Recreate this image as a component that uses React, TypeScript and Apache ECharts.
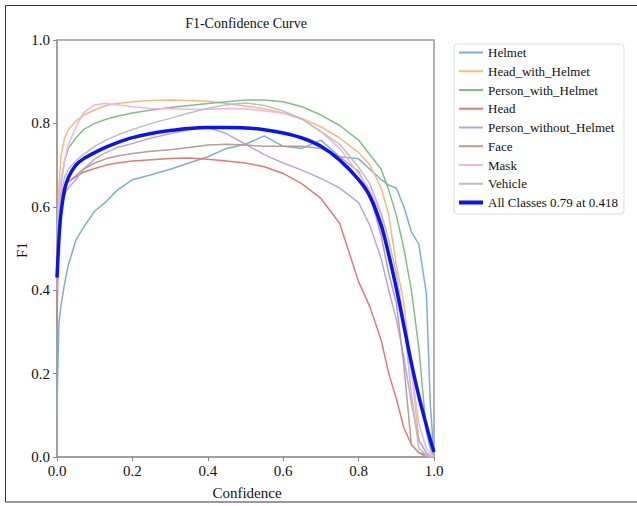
import React, { useEffect, useRef } from 'react';
import * as echarts from 'echarts';

const confidence = [0, 0.005, 0.01, 0.02, 0.03, 0.05, 0.07, 0.1, 0.13, 0.16, 0.2, 0.25, 0.3, 0.35, 0.4, 0.45, 0.5, 0.55, 0.6, 0.65, 0.7, 0.75, 0.8, 0.83, 0.86, 0.88, 0.9, 0.92, 0.94, 0.96, 0.98, 0.99, 1.0];

const helmet = [0.12, 0.32, 0.36, 0.415, 0.46, 0.52, 0.55, 0.59, 0.612, 0.64, 0.665, 0.677, 0.69, 0.705, 0.72, 0.74, 0.75, 0.77, 0.745, 0.74, 0.76, 0.72, 0.715, 0.69, 0.665, 0.652, 0.645, 0.6, 0.54, 0.51, 0.39, 0.13, 0.0];
const headWithHelmet = [0.52, 0.64, 0.72, 0.765, 0.785, 0.805, 0.82, 0.832, 0.843, 0.848, 0.852, 0.855, 0.856, 0.855, 0.853, 0.848, 0.842, 0.835, 0.825, 0.812, 0.792, 0.765, 0.73, 0.7, 0.645, 0.58, 0.46, 0.37, 0.21, 0.04, 0.01, 0.005, 0.0];
const personWithHelmet = [0.45, 0.58, 0.65, 0.71, 0.74, 0.765, 0.785, 0.8, 0.81, 0.817, 0.825, 0.832, 0.838, 0.843, 0.848, 0.852, 0.856, 0.856, 0.852, 0.84, 0.82, 0.795, 0.76, 0.725, 0.69, 0.64, 0.58, 0.5, 0.4, 0.26, 0.06, 0.02, 0.0];
const head = [0.32, 0.55, 0.63, 0.65, 0.66, 0.672, 0.683, 0.692, 0.7, 0.705, 0.71, 0.713, 0.716, 0.717, 0.714, 0.71, 0.705, 0.696, 0.68, 0.655, 0.62, 0.56, 0.42, 0.36, 0.28, 0.2, 0.14, 0.07, 0.03, 0.01, 0.005, 0.0, 0.0];
const personWithoutHelmet = [0.4, 0.55, 0.6, 0.63, 0.645, 0.665, 0.69, 0.715, 0.73, 0.742, 0.752, 0.765, 0.775, 0.785, 0.79, 0.775, 0.75, 0.725, 0.705, 0.688, 0.668, 0.645, 0.61, 0.555, 0.475, 0.4, 0.33, 0.24, 0.13, 0.04, 0.01, 0.0, 0.0];
const face = [0.5, 0.58, 0.62, 0.645, 0.66, 0.675, 0.69, 0.705, 0.715, 0.722, 0.728, 0.733, 0.737, 0.742, 0.748, 0.75, 0.748, 0.745, 0.745, 0.745, 0.74, 0.72, 0.685, 0.63, 0.53, 0.44, 0.37, 0.22, 0.03, 0.01, 0.0, 0.0, 0.0];
const mask = [0.48, 0.6, 0.66, 0.71, 0.75, 0.79, 0.825, 0.845, 0.848, 0.845, 0.84, 0.836, 0.835, 0.834, 0.834, 0.836, 0.835, 0.83, 0.825, 0.81, 0.78, 0.74, 0.68, 0.64, 0.58, 0.49, 0.41, 0.32, 0.21, 0.08, 0.02, 0.01, 0.0];
const vehicle = [0.45, 0.58, 0.63, 0.67, 0.69, 0.71, 0.725, 0.745, 0.76, 0.772, 0.785, 0.8, 0.812, 0.825, 0.836, 0.845, 0.849, 0.843, 0.83, 0.81, 0.78, 0.75, 0.695, 0.655, 0.585, 0.52, 0.44, 0.33, 0.15, 0.02, 0.005, 0.0, 0.0];
const allClasses = [0.43, 0.52, 0.58, 0.64, 0.67, 0.7, 0.715, 0.73, 0.743, 0.754, 0.766, 0.776, 0.783, 0.788, 0.79, 0.79, 0.789, 0.785, 0.777, 0.765, 0.745, 0.712, 0.665, 0.625, 0.555, 0.485, 0.405, 0.315, 0.225, 0.145, 0.075, 0.042, 0.012];

const classNames = ['Helmet', 'Head_with_Helmet', 'Person_with_Helmet', 'Head', 'Person_without_Helmet', 'Face', 'Mask', 'Vehicle'];
const classValues = [helmet, headWithHelmet, personWithHelmet, head, personWithoutHelmet, face, mask, vehicle];
const classColors = ['#7bafd6', '#f9b87c', '#80c080', '#e07a7a', '#bca6dc', '#b99c94', '#f2b4e0', '#bdbdbd'];
const allName = 'All Classes 0.79 at 0.418';
const xTicks = [0, 0.2, 0.4, 0.6, 0.8, 1.0];

const FONT = "'Liberation Serif', 'Times New Roman', serif";

export default function App() {
  const ref = useRef<HTMLDivElement>(null);
  useEffect(() => {
    const chart = echarts.init(ref.current!, null, { renderer: 'svg' });
    const zip = (vals: number[]) => confidence.map((c, i) => [c, vals[i]]);
    const series: any[] = classNames.map((n, i) => ({
      name: n,
      type: 'line',
      data: zip(classValues[i]),
      symbol: 'none',
      smooth: false,
      lineStyle: { width: 1.5, color: classColors[i] },
      itemStyle: { color: classColors[i] },
      z: 2,
    }));
    series.push({
      name: allName,
      type: 'line',
      data: zip(allClasses),
      symbol: 'none',
      smooth: 0.3,
      lineStyle: { width: 3.5, color: '#0a14f0' },
      itemStyle: { color: '#0a14f0' },
      z: 5,
    });
    const axisCommon = {
      type: 'value',
      min: 0,
      max: 1,
      interval: 0.2,
      splitLine: { show: false },
      axisLine: { show: true, lineStyle: { color: '#9a9a9a', width: 1.5 } },
      axisTick: { show: true, length: 4, lineStyle: { color: '#888' } },
      axisLabel: {
        color: '#111',
        fontFamily: FONT,
        fontSize: 15,
        formatter: (v: number) => v.toFixed(1),
      },
    };
    const thinIcon = 'path://M0,0L24,0L24,2L0,2Z';
    const thickIcon = 'path://M0,0L24,0L24,4L0,4Z';
    chart.setOption({
      animation: false,
      backgroundColor: '#fff',
      grid: { left: 57, top: 40, width: 377, height: 417, show: true, borderColor: '#9a9a9a', borderWidth: 1.5 },
      xAxis: { ...axisCommon, axisLabel: { ...axisCommon.axisLabel, margin: 6, customValues: xTicks } },
      yAxis: { ...axisCommon, axisLabel: { ...axisCommon.axisLabel, margin: 7 } },
      legend: {
        orient: 'vertical',
        left: 454,
        top: 44,
        padding: [2, 6, 5, 5],
        itemWidth: 24,
        itemHeight: 14,
        itemGap: 5.75,
        itemTextGap: 4,
        symbolKeepAspect: true,
        borderColor: '#dcdcdc',
        borderWidth: 1,
        borderRadius: 3,
        textStyle: { fontFamily: FONT, fontSize: 13, color: '#111' },
        data: [
          ...classNames.map((n) => ({ name: n, icon: thinIcon })),
          { name: allName, icon: thickIcon },
        ],
      },
      graphic: [
        { type: 'polyline', shape: { points: [[660, 5.5], [5.5, 5.5], [5.5, 502], [660, 502]] }, style: { fill: 'none', stroke: '#333', lineWidth: 1 }, silent: true },
        { type: 'text', x: 246, y: 23, style: { text: 'F1-Confidence Curve', fontFamily: FONT, fontSize: 14, fill: '#111', textAlign: 'center', textVerticalAlign: 'middle' } },
        { type: 'text', x: 247, y: 493, style: { text: 'Confidence', fontFamily: FONT, fontSize: 15, fill: '#111', textAlign: 'center', textVerticalAlign: 'middle' } },
        { type: 'text', x: 22, y: 250, rotation: Math.PI / 2, style: { text: 'F1', fontFamily: FONT, fontSize: 15, fill: '#111', textAlign: 'center', textVerticalAlign: 'middle' } },
      ],
      series,
    });
    return () => chart.dispose();
  }, []);
  return <div ref={ref} style={{ position: 'absolute', left: 0, top: 0, width: 637, height: 506 }} />;
}
